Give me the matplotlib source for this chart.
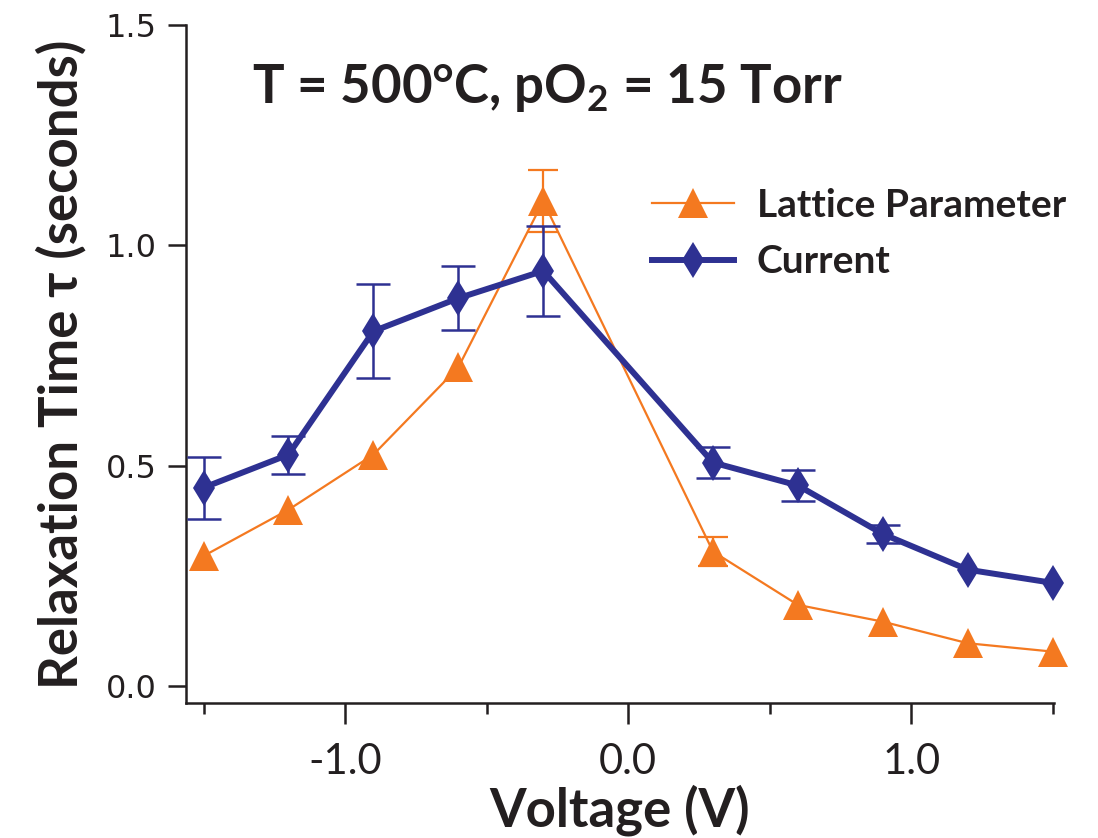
import matplotlib
matplotlib.use("Agg")
import matplotlib.pyplot as plt
import numpy as np

voltage = [-1.5, -1.2, -0.9, -0.6, -0.3, 0.3, 0.6, 0.9, 1.2, 1.5]
lattice_tau = [0.295, 0.400, 0.525, 0.723, 1.100, 0.305, 0.184, 0.146, 0.097, 0.078]
lattice_err = [0.0, 0.0, 0.0, 0.0, 0.070, 0.033, 0.0, 0.0, 0.0, 0.0]
current_tau = [0.450, 0.525, 0.805, 0.880, 0.942, 0.507, 0.455, 0.345, 0.264, 0.234]
current_err = [0.070, 0.043, 0.107, 0.072, 0.103, 0.036, 0.035, 0.020, 0.0, 0.0]

x_ticks = [-1.0, 0.0, 1.0]
x_minor = [-1.5, -0.5, 0.5, 1.5]
y_ticks = [0.0, 0.5, 1.0, 1.5]

orange = "#F47920"
blue = "#2E3192"
dark = "#231F20"

plt.rcParams['mathtext.fontset'] = 'custom'
plt.rcParams['mathtext.rm'] = 'Lato'
plt.rcParams['mathtext.bf'] = 'Lato:bold'
plt.rcParams['mathtext.it'] = 'Lato:italic'

fig = plt.figure(figsize=(10.98, 8.38), dpi=100)
ax = fig.add_axes([186/1098, 1 - 703/838, (1053.5 - 186)/1098, (703 - 25)/838])


def nonzero(xs, ys, es):
    sel = [(x, y, e) for x, y, e in zip(xs, ys, es) if e > 0]
    return [s[0] for s in sel], [s[1] for s in sel], [s[2] for s in sel]


lx, ly, le = nonzero(voltage, lattice_tau, lattice_err)
cx, cy, ce = nonzero(voltage, current_tau, current_err)

ax.errorbar(lx, ly, yerr=le, fmt='none', ecolor=orange,
            elinewidth=1.6, capsize=11, capthick=1.6, zorder=2)
ax.errorbar(cx, cy, yerr=ce, fmt='none', ecolor=blue,
            elinewidth=1.8, capsize=12, capthick=1.8, zorder=4)

ax.plot(voltage, lattice_tau, color=orange, lw=1.6, marker='^', markersize=21,
        markeredgewidth=0, label='Lattice Parameter', zorder=3, clip_on=False)
ax.plot(voltage, current_tau, color=blue, lw=4.3, marker='d', markersize=18,
        markeredgewidth=0, label='Current', zorder=5, clip_on=False)

ax.set_xlim(-1.562, 1.503)
ax.set_ylim(-0.0386, 1.5)

for s in ['top', 'right']:
    ax.spines[s].set_visible(False)
for s in ['left', 'bottom']:
    ax.spines[s].set_linewidth(1.8)
    ax.spines[s].set_color(dark)

ax.set_xticks(x_ticks)
ax.set_xticklabels(['-1.0', '0.0', '1.0'], fontfamily='Lato', fontsize=30, color=dark)
ax.set_xticks(x_minor, minor=True)
ax.set_yticks(y_ticks)
ax.set_yticklabels(['0.0', '0.5', '1.0', '1.5'], fontfamily='DejaVu Sans', fontsize=23, color=dark)
ax.tick_params(axis='x', which='major', length=15, width=1.8, color=dark, pad=14)
ax.tick_params(axis='x', which='minor', length=8, width=1.8, color=dark)
ax.tick_params(axis='y', which='major', length=13, width=1.8, color=dark, pad=8)

ax.set_xlabel('Voltage (V)', fontfamily='Lato', fontweight='bold', fontsize=38, color=dark, labelpad=2)
ax.set_ylabel('Relaxation Time τ (seconds)', fontfamily='Lato', fontweight='bold', fontsize=38,
              color=dark, labelpad=14)

fig.text(252/1098, 1 - 103/838, r'T = 500°C, pO$_{\mathbf{2}}$ = 15 Torr', fontfamily='Lato',
         fontweight='bold', fontsize=38, color=dark, ha='left', va='baseline')

leg = ax.legend(loc='upper left', bbox_to_anchor=(652/1098, 1 - 188/838), bbox_transform=fig.transFigure,
                frameon=False, handlelength=2.1, handletextpad=0.6, labelspacing=0.55,
                prop={'family': 'Lato', 'weight': 'bold', 'size': 28}, borderpad=0, borderaxespad=0)
for t in leg.get_texts():
    t.set_color(dark)

fig.savefig('out.png', dpi=100)
